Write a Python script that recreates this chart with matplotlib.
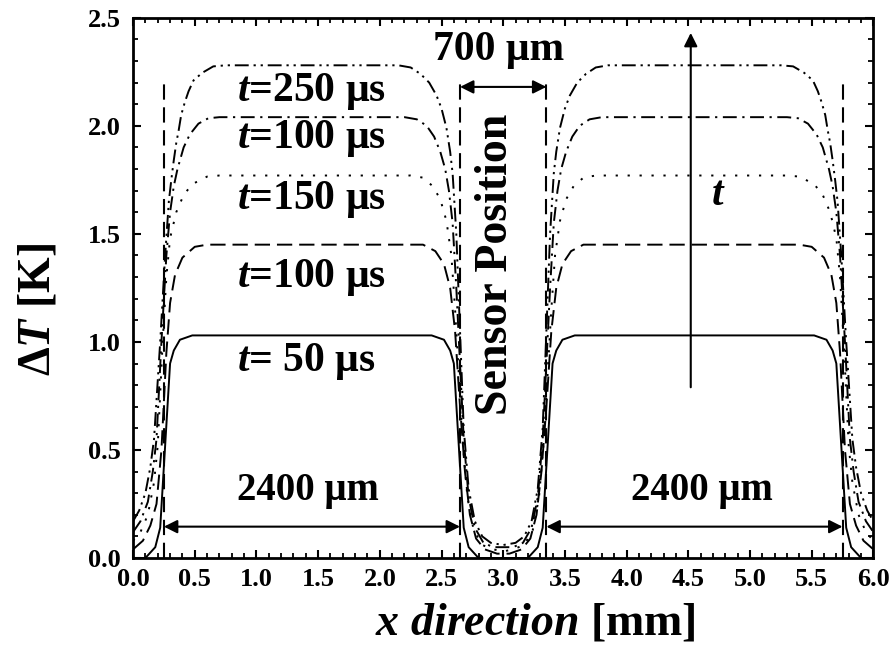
import matplotlib
matplotlib.use('Agg')
import matplotlib.pyplot as plt
from matplotlib.ticker import MultipleLocator

plt.rcParams['font.family'] = 'Liberation Serif'
plt.rcParams['font.weight'] = 'bold'
plt.rcParams['axes.labelweight'] = 'bold'
plt.rcParams['mathtext.fontset'] = 'custom'
plt.rcParams['mathtext.it'] = 'Liberation Serif:italic:bold'
plt.rcParams['mathtext.rm'] = 'Liberation Serif:bold'
plt.rcParams['mathtext.bf'] = 'Liberation Serif:bold'
plt.rcParams['lines.scale_dashes'] = False

# Temperature profiles, left half (0..3 mm); the right heater is the mirror image
solid_x = [0.00, 0.10, 0.18, 0.22, 0.26, 0.30, 0.33, 0.38, 0.48, 2.42, 2.52, 2.57, 2.60, 2.64, 2.68, 2.72, 2.80, 3.00]
solid_y = [0.00, 0.00, 0.05, 0.14, 0.52, 0.90, 0.96, 1.01, 1.03, 1.03, 1.01, 0.96, 0.90, 0.52, 0.14, 0.05, 0.00, 0.00]

dashed_x = [0.00, 0.08, 0.14, 0.19, 0.23, 0.27, 0.30, 0.34, 0.40, 0.50, 0.60, 2.35, 2.45, 2.52, 2.57, 2.61, 2.65, 2.69, 2.73, 2.78, 2.85, 2.95, 3.00]
dashed_y = [0.04, 0.08, 0.15, 0.25, 0.50, 0.95, 1.18, 1.31, 1.39, 1.44, 1.45, 1.45, 1.42, 1.36, 1.25, 1.05, 0.70, 0.40, 0.20, 0.09, 0.04, 0.02, 0.02]

dotted_x = [0.00, 0.06, 0.12, 0.17, 0.20, 0.24, 0.27, 0.30, 0.35, 0.41, 0.48, 0.60, 0.70, 2.25, 2.35, 2.43, 2.49, 2.54, 2.58, 2.61, 2.64, 2.67, 2.71, 2.76, 2.83, 2.92, 3.00]
dotted_y = [0.08, 0.12, 0.20, 0.35, 0.52, 1.00, 1.30, 1.48, 1.60, 1.68, 1.73, 1.765, 1.77, 1.77, 1.76, 1.72, 1.66, 1.56, 1.40, 1.15, 0.85, 0.55, 0.28, 0.13, 0.06, 0.04, 0.03]

dashdot_x = [0.00, 0.06, 0.12, 0.16, 0.19, 0.23, 0.27, 0.30, 0.33, 0.36, 0.41, 0.46, 0.53, 0.61, 0.70, 2.20, 2.30, 2.38, 2.44, 2.49, 2.53, 2.56, 2.59, 2.62, 2.65, 2.68, 2.72, 2.77, 2.84, 2.92, 3.00]
dashdot_y = [0.12, 0.17, 0.26, 0.40, 0.55, 1.00, 1.40, 1.60, 1.72, 1.80, 1.90, 1.96, 2.01, 2.035, 2.04, 2.04, 2.03, 2.00, 1.95, 1.88, 1.80, 1.70, 1.55, 1.25, 0.90, 0.55, 0.28, 0.14, 0.07, 0.05, 0.05]

dashdotdot_x = [0.00, 0.05, 0.10, 0.14, 0.17, 0.22, 0.26, 0.29, 0.31, 0.33, 0.35, 0.37, 0.39, 0.42, 0.45, 0.49, 0.56, 0.65, 0.75, 2.15, 2.25, 2.33, 2.40, 2.46, 2.50, 2.54, 2.57, 2.59, 2.62, 2.65, 2.68, 2.72, 2.77, 2.83, 2.90, 3.00]
dashdotdot_y = [0.17, 0.22, 0.30, 0.42, 0.55, 1.00, 1.40, 1.65, 1.75, 1.84, 1.92, 1.98, 2.05, 2.11, 2.16, 2.21, 2.245, 2.275, 2.28, 2.28, 2.27, 2.24, 2.20, 2.14, 2.08, 1.99, 1.88, 1.78, 1.50, 1.05, 0.60, 0.32, 0.17, 0.10, 0.07, 0.06]

# heater edges [mm]
heater_edges = [0.25, 2.65, 3.35, 5.75]

time_labels = [r'$\mathit{t}$=250 μs', r'$\mathit{t}$=100 μs', r'$\mathit{t}$=150 μs',
               r'$\mathit{t}$=100 μs', r'$\mathit{t}$= 50 μs']
time_label_y = [2.16, 1.94, 1.66, 1.30, 0.91]


def mirror(x, y):
    xs = list(x) + [6.0 - v for v in reversed(x[:-1])]
    ys = list(y) + list(reversed(y[:-1]))
    return xs, ys


fig = plt.figure(figsize=(8.93, 6.58), dpi=100)
ax = fig.add_axes([0.149, 0.152, 0.829, 0.821])

lw = 1.4
styles = [
    (solid_x, solid_y, '-'),
    (dashed_x, dashed_y, (0, (11, 5))),
    (dotted_x, dotted_y, (0, (1.6, 7))),
    (dashdot_x, dashdot_y, (0, (10, 4, 1.6, 4))),
    (dashdotdot_x, dashdotdot_y, (0, (10, 3.5, 1.6, 3.5, 1.6, 3.5))),
]
for xs, ys, ls in styles:
    fx, fy = mirror(xs, ys)
    ax.plot(fx, fy, color='k', lw=lw, linestyle=ls)

for xe in heater_edges:
    ax.plot([xe, xe], [0, 2.2], color='k', lw=1.5, linestyle=(0, (11, 5.5)))

arrow_kw = dict(arrowstyle='<|-|>', color='k', lw=1.5, mutation_scale=20,
                shrinkA=0, shrinkB=0)
ax.annotate('', xy=(heater_edges[0], 0.145), xytext=(heater_edges[1], 0.145), arrowprops=arrow_kw)
ax.annotate('', xy=(heater_edges[2], 0.145), xytext=(heater_edges[3], 0.145), arrowprops=arrow_kw)
ax.annotate('', xy=(heater_edges[1], 2.18), xytext=(heater_edges[2], 2.18), arrowprops=arrow_kw)
ax.annotate('', xy=(4.52, 2.43), xytext=(4.52, 0.79),
            arrowprops=dict(arrowstyle='-|>', color='k', lw=1.5, mutation_scale=20,
                            shrinkA=0, shrinkB=0))

ax.text(1.42, 0.31, '2400 μm', fontsize=28, ha='center', va='center')
ax.text(4.61, 0.31, '2400 μm', fontsize=28, ha='center', va='center')
ax.text(2.96, 2.35, '700 μm', fontsize=30, ha='center', va='center')
ax.text(2.94, 1.36, 'Sensor Position', fontsize=33, rotation=90, ha='center', va='center')
ax.text(4.74, 1.68, r'$\mathit{t}$', fontsize=30, ha='center', va='center')
for lab, yy in zip(time_labels, time_label_y):
    ax.text(0.84, yy, lab, fontsize=30, ha='left', va='center')

ax.set_xlim(0, 6)
ax.set_ylim(0, 2.5)
ax.xaxis.set_major_locator(MultipleLocator(0.5))
ax.xaxis.set_minor_locator(MultipleLocator(0.1))
ax.yaxis.set_major_locator(MultipleLocator(0.5))
ax.yaxis.set_minor_locator(MultipleLocator(0.1))
ax.xaxis.set_major_formatter(plt.FuncFormatter(lambda v, p: f'{v:.1f}'))
ax.yaxis.set_major_formatter(plt.FuncFormatter(lambda v, p: f'{v:.1f}'))
ax.tick_params(which='both', direction='in', top=True, right=True, labelsize=19)
ax.tick_params(axis='x', pad=7)
ax.tick_params(axis='y', pad=9)
ax.tick_params(which='major', length=6, width=1.5)
ax.tick_params(which='minor', length=3.5, width=1.3)
for s in ax.spines.values():
    s.set_linewidth(2)

ax.set_xlabel(r'$\mathit{x\ direction}$ [mm]', fontsize=33)
ax.set_ylabel(r'Δ$\mathit{T}$ [K]', fontsize=33)
ax.xaxis.set_label_coords(0.543, -0.082)
ax.yaxis.set_label_coords(-0.099, 0.46)

fig.savefig('out.png', dpi=100)
